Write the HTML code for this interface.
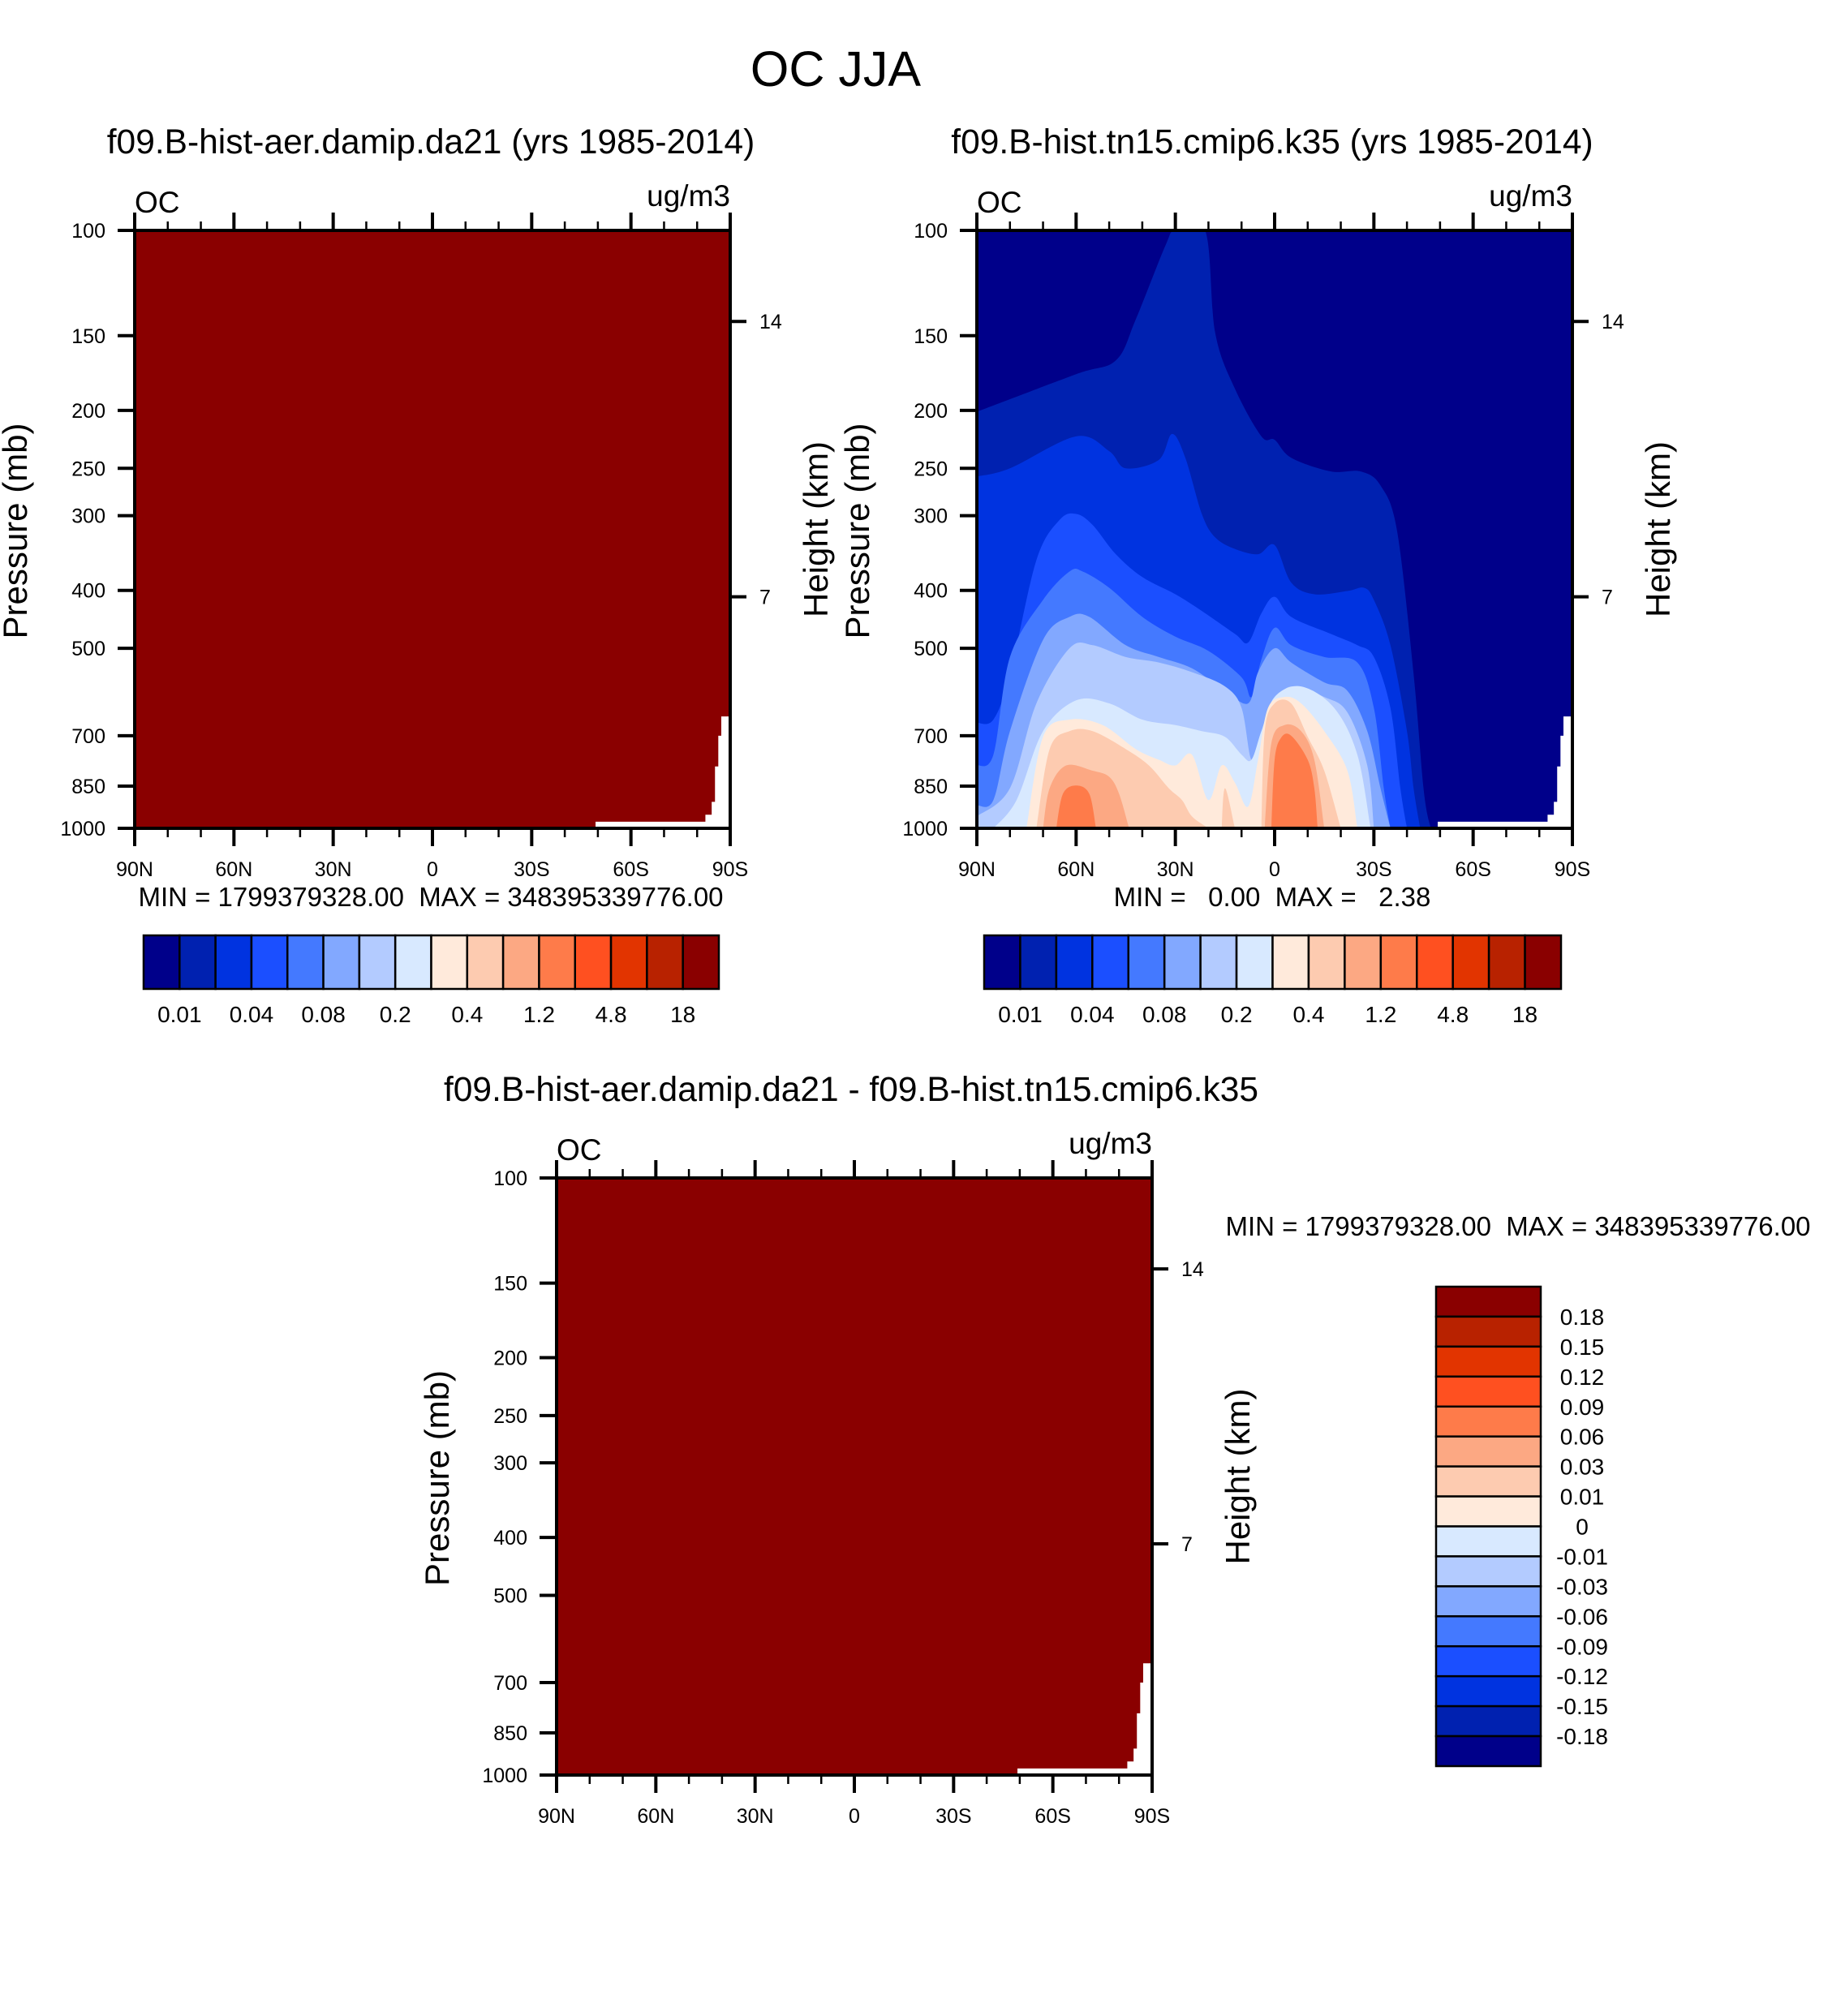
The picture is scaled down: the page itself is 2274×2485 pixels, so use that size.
<!DOCTYPE html>
<html><head><meta charset="utf-8">
<style>
html,body{margin:0;padding:0;background:#fff;}
svg{display:block;font-family:"Liberation Sans",Arial,sans-serif;}
text{white-space:pre;}
</style></head>
<body>
<svg id="fig" width="2274" height="2485" viewBox="0 0 2274 2485" xmlns="http://www.w3.org/2000/svg">
<text x="1030" y="106" font-size="61" text-anchor="middle">OC JJA</text>
</svg>
<script>
// ---- data ----
const pressureTicks = [100,150,200,250,300,400,500,700,850,1000];
const heightTicks = [14,7];
const heightTickP = [142,410];
const latTicks = [90,60,30,0,-30,-60,-90];
const latTickLabels = ["90N","60N","30N","0","30S","60S","90S"];
const cbLabels12 = ["0.01","0.04","0.08","0.2","0.4","1.2","4.8","18"];
const cbLabelsDiff = ["0.18","0.15","0.12","0.09","0.06","0.03","0.01","0","-0.01","-0.03","-0.06","-0.09","-0.12","-0.15","-0.18"];
const levelColors = ["#00008a","#0021b0","#0033e0","#1b4fff","#4479ff","#82a8ff","#b3cbff","#d8e9ff","#ffeadb","#fdcbb0","#fca883","#fe7b4a","#ff5020","#e23400","#b82200","#8a0000"];
// contour regions for panel 2 (level index, lat list, top-boundary pressure list)
const contourLevel = [1,2,3,4,5,6,7,8,9,9,9,10,10,11,11];
const contourLat = [
 [90,60,48,42,33,30,21,18,12,4,0,-5,-17,-26,-32,-37,-42,-45,-47,-48],
 [90,80,60,50,45,35,31,27,22,18,12,5,0,-5,-12,-22,-27,-30,-35,-40,-42,-44],
 [90,85,80,72,65,60,55,48,40,30,22,12,8,4,0,-5,-17,-25,-30,-35,-38,-40],
 [90,85,80,70,62,58,50,40,30,20,10,7,4,0,-5,-15,-25,-30,-33,-35],
 [90,85,80,70,62,56,45,35,25,15,8,5,0,-5,-15,-22,-28,-32,-35],
 [90,80,72,62,55,45,35,25,15,10,7,4,0,-5,-15,-22,-28,-30],
 [85,78,70,60,50,40,30,22,15,10,7,4,0,-8,-18,-25,-29],
 [75,70,62,52,42,35,30,25,20,16,12,8,5,2,-3,-8,-15,-22,-25],
 [72,68,62,55,45,38,32,28,25,20],
 [16,15,12],
 [4,3,0,-5,-10,-15,-20],
 [70,68,63,55,50,47,44],
 [3,1,-3,-8,-12,-15],
 [66,64,60,56,54],
 [1,0,-2,-5,-10,-12,-13]
];
const contourP = [
 [201,174,165,141,106,100,100,148,184,221,224,240,253,253,267,318,552,857,990,1000],
 [258,250,221,234,250,242,219,240,298,326,341,348,336,388,406,401,396,415,494,688,857,1000],
 [666,658,553,356,305,298,311,348,380,406,433,473,489,437,410,443,473,494,517,629,857,1000],
 [785,753,517,415,372,372,396,443,478,505,559,603,522,462,494,517,528,629,857,1000],
 [915,897,688,484,443,443,494,517,540,589,618,548,500,528,570,589,688,857,1000],
 [955,857,618,500,494,517,528,548,579,629,768,688,618,579,603,640,785,1000],
 [1000,897,688,611,618,658,672,688,703,753,768,688,603,579,629,753,1000],
 [1000,703,658,672,737,768,785,753,897,785,839,920,768,629,603,618,688,801,1000],
 [1000,737,688,688,737,785,857,897,955,1000],
 [1000,857,1000],
 [1000,688,618,618,703,801,1000],
 [1000,857,785,801,820,876,1000],
 [1000,721,672,688,768,1000],
 [1000,876,848,876,1000],
 [1000,768,705,700,768,857,1000]
];
// missing-data mask near the south pole surface
const maskLat = [-87.3,-90,-90,-49.3,-49.3,-82.5,-82.5,-84.4,-84.4,-85.4,-85.4,-86.4,-86.4,-87.3];
const maskP = [650,650,1000,1000,975,975,949,949,903,903,788,788,700,700];

const NS="http://www.w3.org/2000/svg";
const svg=document.getElementById('fig');
function mk(tag,attrs,parent){const e=document.createElementNS(NS,tag);for(const k in attrs)e.setAttribute(k,attrs[k]);(parent||svg).appendChild(e);return e;}
function txt(s,attrs,parent){const e=mk('text',attrs,parent);e.textContent=s;return e;}

function makeAxes(L,T,R,B){
  return {x:lat=>L+(90-lat)/180*(R-L), y:p=>T+Math.log10(p/100)*(B-T)};
}
function smoothPath(pts){
  let d=`M${pts[0][0]},${pts[0][1]}`;
  for(let i=0;i<pts.length-1;i++){
    const p0=pts[Math.max(0,i-1)],p1=pts[i],p2=pts[i+1],p3=pts[Math.min(pts.length-1,i+2)];
    const c1=[p1[0]+(p2[0]-p0[0])/6,p1[1]+(p2[1]-p0[1])/6];
    const c2=[p2[0]-(p3[0]-p1[0])/6,p2[1]-(p3[1]-p1[1])/6];
    d+=` C${c1[0]},${c1[1]} ${c2[0]},${c2[1]} ${p2[0]},${p2[1]}`;
  }
  return d;
}

function panel(id,L,T,R,B,subtitle,subX,contours){
  const g=mk('g',{});
  
  
  const ax=makeAxes(L,T,R,B);
  const clip=mk('clipPath',{id:id+'-clip'},g);
  mk('rect',{x:L,y:T,width:R-L,height:B-T},clip);
  const st=txt(subtitle,{x:subX,y:T-95,'font-size':42.5,'text-anchor':'middle'},g);
  
  
  const oc=txt('OC',{x:L,y:T-22,'font-size':37},g);
  
  
  const un=txt('ug/m3',{x:R,y:T-30,'font-size':37,'text-anchor':'end'},g);
  
  
  const pg=mk('g',{'clip-path':`url(#${id}-clip)`},g);
  const bg=mk('rect',{x:L,y:T,width:R-L,height:B-T,fill:contours?levelColors[0]:levelColors[15]},pg);
  
  
  if(contours){
    for(let c=0;c<contourLevel.length;c++){
      const pts=contourLat[c].map((la,i)=>[ax.x(la),ax.y(contourP[c][i])]);
      let d=smoothPath(pts);
      d+=` L${pts[pts.length-1][0]},${B+2} L${pts[0][0]},${B+2} Z`;
      const path=mk('path',{d:d,fill:levelColors[contourLevel[c]]},pg);
      
      
    }
  }
  const mpts=maskLat.map((la,i)=>`${ax.x(la)},${ax.y(maskP[i])}`).join(' ');
  const mask=mk('polygon',{points:mpts,fill:'#fff'},pg);
  
  
  const frame=mk('rect',{x:L,y:T,width:R-L,height:B-T,fill:'none',stroke:'#000','stroke-width':4},g);
  
  
  pressureTicks.forEach(p=>{
    const y=ax.y(p);
    mk('line',{x1:L-21,y1:y,x2:L,y2:y,stroke:'#000','stroke-width':4},g);
    const t=txt(String(p),{x:L-36,y:y+9,'font-size':25,'text-anchor':'end'},g);
    
    
  });
  heightTicks.forEach((h,i)=>{
    const y=ax.y(heightTickP[i]);
    mk('line',{x1:R,y1:y,x2:R+20,y2:y,stroke:'#000','stroke-width':4},g);
    const t=txt(String(h),{x:R+36,y:y+9,'font-size':25},g);
    
    
  });
  for(let la=90;la>=-90;la-=10){
    const x=ax.x(la);const major=(la%30===0);const len=major?22:11;
    mk('line',{x1:x,y1:B,x2:x,y2:B+len,stroke:'#000','stroke-width':major?4:2.5},g);
    mk('line',{x1:x,y1:T,x2:x,y2:T-len,stroke:'#000','stroke-width':major?4:2.5},g);
  }
  latTicks.forEach((la,i)=>{
    const t=txt(latTickLabels[i],{x:ax.x(la),y:B+59,'font-size':25,'text-anchor':'middle'},g);
    
    
  });
  const yc=(T+B)/2;
  const pl=txt('Pressure (mb)',{x:0,y:0,'font-size':42,'text-anchor':'middle',transform:`translate(${L-133},${yc+2}) rotate(-90)`},g);
  
  
  const hl=txt('Height (km)',{x:0,y:0,'font-size':42,'text-anchor':'middle',transform:`translate(${R+120},${yc}) rotate(-90)`},g);
  
  
  return ax;
}

function hColorbar(x0,x1,y0,y1,labels,name){
  const g=mk('g',{});
  
  
  const w=(x1-x0)/16;
  for(let i=0;i<16;i++){
    const r=mk('rect',{x:x0+i*w,y:y0,width:w,height:y1-y0,fill:levelColors[i],stroke:'#000','stroke-width':2.5},g);
    
    
  }
  labels.forEach((s,i)=>{
    const t=txt(s,{x:x0+(2*i+1)*w,y:y1+41,'font-size':28,'text-anchor':'middle'},g);
    
    
  });
}

panel('panel-test',166,284,900,1021,'f09.B-hist-aer.damip.da21 (yrs 1985-2014)',531,false);
panel('panel-control',1204,284,1938,1021,'f09.B-hist.tn15.cmip6.k35 (yrs 1985-2014)',1568,true);
panel('panel-diff',686,1452,1420,2188,'f09.B-hist-aer.damip.da21 - f09.B-hist.tn15.cmip6.k35',1049,false);

const m1=txt('MIN = 1799379328.00  MAX = 348395339776.00',{x:531,y:1117,'font-size':33,'text-anchor':'middle'});


const m2=txt('MIN =   0.00  MAX =   2.38',{x:1568,y:1117,'font-size':33,'text-anchor':'middle'});


const m3=txt('MIN = 1799379328.00  MAX = 348395339776.00',{x:1871,y:1523,'font-size':33,'text-anchor':'middle'});



hColorbar(177,886,1153,1219,cbLabels12,'colorbar-test');
hColorbar(1213,1924,1153,1219,cbLabels12,'colorbar-control');

(function(){
  const g=mk('g',{});
  
  
  const x0=1770,x1=1899,y0=1586,y1=2177,h=(y1-y0)/16;
  for(let i=0;i<16;i++){
    const r=mk('rect',{x:x0,y:y0+i*h,width:x1-x0,height:h,fill:levelColors[15-i],stroke:'#000','stroke-width':2.5},g);
    
    
  }
  cbLabelsDiff.forEach((s,i)=>{
    const t=txt(s,{x:1950,y:y0+(i+1)*h+10,'font-size':28,'text-anchor':'middle'},g);
    
    
  });
})();
</script>
</body></html>
